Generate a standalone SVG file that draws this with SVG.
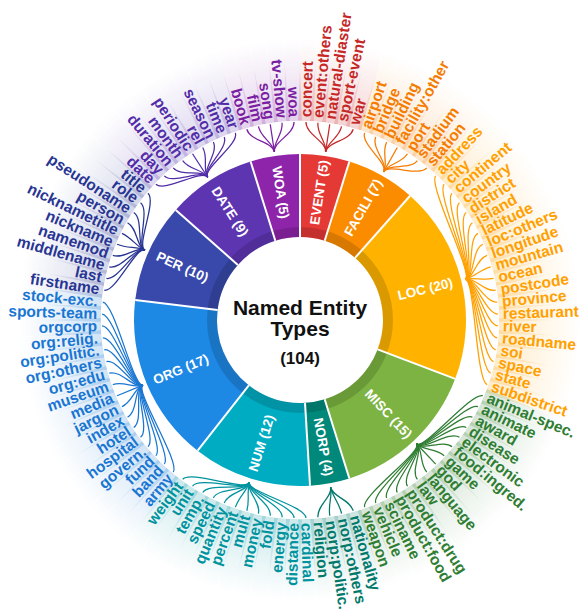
<svg xmlns="http://www.w3.org/2000/svg" width="582" height="612" viewBox="0 0 582 612">
<style>
text{font-family:"Liberation Sans",Arial,Helvetica,sans-serif;font-weight:bold}
.sl{fill:#fff;font-size:13.5px;text-anchor:middle;dominant-baseline:central}
.lf text{font-size:15.5px}
.lf .e{text-anchor:end}
.h{fill-opacity:.2}
.cn use{fill:none;stroke-width:1.25}
.ctr{fill:#111;text-anchor:middle}
</style>
<defs>
<linearGradient id="gR" x1="0" y1="0" x2="1" y2="0"><stop offset="0" stop-color="#fff"/><stop offset="1" stop-color="#000"/></linearGradient>
<linearGradient id="gL" x1="1" y1="0" x2="0" y2="0"><stop offset="0" stop-color="#fff"/><stop offset="1" stop-color="#000"/></linearGradient>
<mask id="mR" maskContentUnits="objectBoundingBox"><rect width="1" height="1" fill="url(#gR)"/></mask>
<mask id="mL" maskContentUnits="objectBoundingBox"><rect width="1" height="1" fill="url(#gL)"/></mask>
<rect id="hr" x="199" y="-8" width="82" height="16" mask="url(#mR)"/>
<rect id="hl" x="-281" y="-8" width="82" height="16" mask="url(#mL)"/>
<path id="z" d="M170,0L198,0"/>
<path id="a1" d="M169.92,5.13C179.92,5.44 186,0 198,0"/>
<path id="b1" d="M169.92,-5.13C179.92,-5.44 186,0 198,0"/>
<path id="a2" d="M169.69,10.26C179.67,10.87 186,0 198,0"/>
<path id="b2" d="M169.69,-10.26C179.67,-10.87 186,0 198,0"/>
<path id="a3" d="M169.30,15.38C179.26,16.29 186,0 198,0"/>
<path id="b3" d="M169.30,-15.38C179.26,-16.29 186,0 198,0"/>
<path id="a4" d="M168.76,20.49C178.69,21.70 186,0 198,0"/>
<path id="b4" d="M168.76,-20.49C178.69,-21.70 186,0 198,0"/>
<path id="a5" d="M168.06,25.58C177.95,27.08 186,0 198,0"/>
<path id="b5" d="M168.06,-25.58C177.95,-27.08 186,0 198,0"/>
<path id="a6" d="M167.22,30.64C177.05,32.45 186,0 198,0"/>
<path id="b6" d="M167.22,-30.64C177.05,-32.45 186,0 198,0"/>
<path id="a7" d="M166.21,35.68C175.99,37.78 186,0 198,0"/>
<path id="b7" d="M166.21,-35.68C175.99,-37.78 186,0 198,0"/>
<path id="a8" d="M165.06,40.68C174.77,43.08 186,0 198,0"/>
<path id="b8" d="M165.06,-40.68C174.77,-43.08 186,0 198,0"/>
<path id="a9" d="M163.76,45.65C173.39,48.34 186,0 198,0"/>
<path id="b9" d="M163.76,-45.65C173.39,-48.34 186,0 198,0"/>
<path id="a10" d="M162.30,50.58C171.85,53.55 186,0 198,0"/>
<path id="b10" d="M162.30,-50.58C171.85,-53.55 186,0 198,0"/>
<path id="a11" d="M160.70,55.45C170.15,58.72 186,0 198,0"/>
<path id="b11" d="M160.70,-55.45C170.15,-58.72 186,0 198,0"/>
<path id="a12" d="M158.95,60.28C168.30,63.83 186,0 198,0"/>
<path id="b12" d="M158.95,-60.28C168.30,-63.83 186,0 198,0"/>
<path id="a13" d="M157.06,65.06C166.30,68.88 186,0 198,0"/>
<path id="b13" d="M157.06,-65.06C166.30,-68.88 186,0 198,0"/>
<path id="a14" d="M155.02,69.77C164.14,73.87 186,0 198,0"/>
<path id="b14" d="M155.02,-69.77C164.14,-73.87 186,0 198,0"/>
<path id="a15" d="M152.85,74.42C161.84,78.80 186,0 198,0"/>
<path id="b15" d="M152.85,-74.42C161.84,-78.80 186,0 198,0"/>
<path id="a16" d="M150.53,79.00C159.38,83.65 186,0 198,0"/>
<path id="b16" d="M150.53,-79.00C159.38,-83.65 186,0 198,0"/>
<path id="a17" d="M148.07,83.51C156.78,88.43 186,0 198,0"/>
<path id="b17" d="M148.07,-83.51C156.78,-88.43 186,0 198,0"/>
<path id="a19" d="M142.76,92.30C151.16,97.73 186,0 198,0"/>
<path id="b19" d="M142.76,-92.30C151.16,-97.73 186,0 198,0"/>
</defs>
<rect width="582" height="612" fill="#fff"/>

<g id="ring">
<g id="event"><path fill="#E53935" d="M300,154A166,166 0 0 1 349.39,161.52L324.69,240.76A83,83 0 0 0 300,237Z"/><text class="sl" transform="translate(319.41,192.47) rotate(-81.35)">EVENT (5)</text></g>
<g id="facili"><path fill="#FB8C00" d="M349.39,161.52A166,166 0 0 1 410.08,195.75L355.04,257.87A83,83 0 0 0 324.69,240.76Z"/><text class="sl" transform="translate(363.37,207.64) rotate(-60.58)">FACILI (7)</text></g>
<g id="loc"><path fill="#FFB300" d="M410.08,195.75A166,166 0 0 1 455.21,378.86L377.61,349.43A83,83 0 0 0 355.04,257.87Z"/><text class="sl" transform="translate(425.25,289.13) rotate(-13.85)">LOC (20)</text></g>
<g id="misc"><path fill="#7CB342" d="M455.21,378.86A166,166 0 0 1 349.39,478.48L324.69,399.24A83,83 0 0 0 377.61,349.43Z"/><text class="sl" transform="translate(388.42,413.93) rotate(46.73)">MISC (15)</text></g>
<g id="norp"><path fill="#00897B" d="M349.39,478.48A166,166 0 0 1 310.02,485.70L305.01,402.85A83,83 0 0 0 324.69,399.24Z"/><text class="sl" transform="translate(323.25,446.89) rotate(79.62)">NORP (4)</text></g>
<g id="num"><path fill="#00ACC1" d="M310.02,485.70A166,166 0 0 1 197.63,450.67L248.81,385.34A83,83 0 0 0 305.01,402.85Z"/><text class="sl" transform="translate(261.62,443.16) rotate(-72.69)">NUM (12)</text></g>
<g id="org"><path fill="#1E88E5" d="M197.63,450.67A166,166 0 0 1 135.21,299.99L217.61,310A83,83 0 0 0 248.81,385.34Z"/><text class="sl" transform="translate(180.82,369.37) rotate(-22.5)">ORG (17)</text></g>
<g id="per"><path fill="#3949AB" d="M135.21,299.99A166,166 0 0 1 175.75,209.92L237.87,264.96A83,83 0 0 0 217.61,310Z"/><text class="sl" transform="translate(182.36,267.06) rotate(24.23)">PER (10)</text></g>
<g id="date"><path fill="#5E35B1" d="M175.75,209.92A166,166 0 0 1 250.62,161.52L275.31,240.76A83,83 0 0 0 237.87,264.96Z"/><text class="sl" transform="translate(229.96,211.67) rotate(57.12)">DATE (9)</text></g>
<g id="woa"><path fill="#8E24AA" d="M250.62,161.52A166,166 0 0 1 300,154L300,237A83,83 0 0 0 275.31,240.76Z"/><text class="sl" transform="translate(280.59,192.47) rotate(81.35)">WOA (5)</text></g>
<circle cx="300" cy="320" r="88" fill="none" stroke="#000" stroke-opacity=".14" stroke-width="10"/>
<g stroke="#fff" stroke-width="2">
<line x1="300" y1="237" x2="300" y2="153"/>
<line x1="324.69" y1="240.76" x2="349.39" y2="161.52"/>
<line x1="355.04" y1="257.87" x2="410.08" y2="195.75"/>
<line x1="377.61" y1="349.43" x2="455.21" y2="378.86"/>
<line x1="324.69" y1="399.24" x2="349.39" y2="478.48"/>
<line x1="305.01" y1="402.85" x2="310.02" y2="485.70"/>
<line x1="248.81" y1="385.34" x2="197.63" y2="450.67"/>
<line x1="217.61" y1="310" x2="135.21" y2="299.99"/>
<line x1="237.87" y1="264.96" x2="175.75" y2="209.92"/>
<line x1="275.31" y1="240.76" x2="250.62" y2="161.52"/>
</g>
</g>

<g id="center">
<text class="ctr" x="300" y="315" font-size="21">Named Entity</text>
<text class="ctr" x="300" y="336" font-size="21">Types</text>
<text class="ctr" x="300" y="364" font-size="17">(104)</text>
</g>

<g id="connectors" class="cn" transform="translate(300,320)">
<g stroke="#C62828">
<use href="#a4" transform="rotate(-88.27)"/><use href="#a2" transform="rotate(-84.81)"/><use href="#z" transform="rotate(-81.35)"/><use href="#b2" transform="rotate(-77.88)"/><use href="#b4" transform="rotate(-74.42)"/>
</g>
<g stroke="#F57C00">
<use href="#a6" transform="rotate(-70.96)"/><use href="#a4" transform="rotate(-67.5)"/><use href="#a2" transform="rotate(-64.04)"/><use href="#z" transform="rotate(-60.58)"/><use href="#b2" transform="rotate(-57.12)"/><use href="#b4" transform="rotate(-53.65)"/><use href="#b6" transform="rotate(-50.19)"/>
</g>
<g stroke="#FFA000">
<use href="#a19" transform="rotate(-46.73)"/><use href="#a17" transform="rotate(-43.27)"/><use href="#a15" transform="rotate(-39.81)"/><use href="#a13" transform="rotate(-36.35)"/><use href="#a11" transform="rotate(-32.88)"/><use href="#a9" transform="rotate(-29.42)"/><use href="#a7" transform="rotate(-25.96)"/><use href="#a5" transform="rotate(-22.5)"/><use href="#a3" transform="rotate(-19.04)"/><use href="#a1" transform="rotate(-15.58)"/><use href="#b1" transform="rotate(-12.12)"/><use href="#b3" transform="rotate(-8.65)"/><use href="#b5" transform="rotate(-5.19)"/><use href="#b7" transform="rotate(-1.73)"/><use href="#b9" transform="rotate(1.73)"/><use href="#b11" transform="rotate(5.19)"/><use href="#b13" transform="rotate(8.65)"/><use href="#b15" transform="rotate(12.12)"/><use href="#b17" transform="rotate(15.58)"/><use href="#b19" transform="rotate(19.04)"/>
</g>
<g stroke="#2E7D32">
<use href="#a14" transform="rotate(22.5)"/><use href="#a12" transform="rotate(25.96)"/><use href="#a10" transform="rotate(29.42)"/><use href="#a8" transform="rotate(32.88)"/><use href="#a6" transform="rotate(36.35)"/><use href="#a4" transform="rotate(39.81)"/><use href="#a2" transform="rotate(43.27)"/><use href="#z" transform="rotate(46.73)"/><use href="#b2" transform="rotate(50.19)"/><use href="#b4" transform="rotate(53.65)"/><use href="#b6" transform="rotate(57.12)"/><use href="#b8" transform="rotate(60.58)"/><use href="#b10" transform="rotate(64.04)"/><use href="#b12" transform="rotate(67.5)"/><use href="#b14" transform="rotate(70.96)"/>
</g>
<g stroke="#00796B">
<use href="#a3" transform="rotate(74.42)"/><use href="#a1" transform="rotate(77.88)"/><use href="#b1" transform="rotate(81.35)"/><use href="#b3" transform="rotate(84.81)"/>
</g>
<g stroke="#00939E">
<use href="#a11" transform="rotate(88.27)"/><use href="#a9" transform="rotate(91.73)"/><use href="#a7" transform="rotate(95.19)"/><use href="#a5" transform="rotate(98.65)"/><use href="#a3" transform="rotate(102.12)"/><use href="#a1" transform="rotate(105.58)"/><use href="#b1" transform="rotate(109.04)"/><use href="#b3" transform="rotate(112.5)"/><use href="#b5" transform="rotate(115.96)"/><use href="#b7" transform="rotate(119.42)"/><use href="#b9" transform="rotate(122.88)"/><use href="#b11" transform="rotate(126.35)"/>
</g>
<g stroke="#1976D2">
<use href="#a16" transform="rotate(129.81)"/><use href="#a14" transform="rotate(133.27)"/><use href="#a12" transform="rotate(136.73)"/><use href="#a10" transform="rotate(140.19)"/><use href="#a8" transform="rotate(143.65)"/><use href="#a6" transform="rotate(147.12)"/><use href="#a4" transform="rotate(150.58)"/><use href="#a2" transform="rotate(154.04)"/><use href="#z" transform="rotate(157.5)"/><use href="#b2" transform="rotate(160.96)"/><use href="#b4" transform="rotate(164.42)"/><use href="#b6" transform="rotate(167.88)"/><use href="#b8" transform="rotate(171.35)"/><use href="#b10" transform="rotate(174.81)"/><use href="#b12" transform="rotate(178.27)"/><use href="#b14" transform="rotate(181.73)"/><use href="#b16" transform="rotate(185.19)"/>
</g>
<g stroke="#283593">
<use href="#a9" transform="rotate(188.65)"/><use href="#a7" transform="rotate(192.12)"/><use href="#a5" transform="rotate(195.58)"/><use href="#a3" transform="rotate(199.04)"/><use href="#a1" transform="rotate(202.5)"/><use href="#b1" transform="rotate(205.96)"/><use href="#b3" transform="rotate(209.42)"/><use href="#b5" transform="rotate(212.88)"/><use href="#b7" transform="rotate(216.35)"/><use href="#b9" transform="rotate(219.81)"/>
</g>
<g stroke="#512DA8">
<use href="#a8" transform="rotate(223.27)"/><use href="#a6" transform="rotate(226.73)"/><use href="#a4" transform="rotate(230.19)"/><use href="#a2" transform="rotate(233.65)"/><use href="#z" transform="rotate(237.12)"/><use href="#b2" transform="rotate(240.58)"/><use href="#b4" transform="rotate(244.04)"/><use href="#b6" transform="rotate(247.5)"/><use href="#b8" transform="rotate(250.96)"/>
</g>
<g stroke="#7B1FA2">
<use href="#a4" transform="rotate(254.42)"/><use href="#a2" transform="rotate(257.88)"/><use href="#z" transform="rotate(261.35)"/><use href="#b2" transform="rotate(264.81)"/><use href="#b4" transform="rotate(268.27)"/>
</g>
</g>

<g id="leaves" class="lf" transform="translate(300,320)">
<g id="event-types" fill="#C62828">
<g id="l0" transform="rotate(-88.27)"><use class="h" href="#hr"/><text x="203" y="5">concert</text></g>
<g id="l1" transform="rotate(-84.81)"><use class="h" href="#hr"/><text x="203" y="5">event:others</text></g>
<g id="l2" transform="rotate(-81.35)"><use class="h" href="#hr"/><text x="203" y="5">natural-diaster</text></g>
<g id="l3" transform="rotate(-77.88)"><use class="h" href="#hr"/><text x="203" y="5">sport-event</text></g>
<g id="l4" transform="rotate(-74.42)"><use class="h" href="#hr"/><text x="203" y="5">war</text></g>
</g>
<g id="facili-types" fill="#F57C00">
<g id="l5" transform="rotate(-70.96)"><use class="h" href="#hr"/><text x="203" y="5">airport</text></g>
<g id="l6" transform="rotate(-67.5)"><use class="h" href="#hr"/><text x="203" y="5">bridge</text></g>
<g id="l7" transform="rotate(-64.04)"><use class="h" href="#hr"/><text x="203" y="5">building</text></g>
<g id="l8" transform="rotate(-60.58)"><use class="h" href="#hr"/><text x="203" y="5">facility:other</text></g>
<g id="l9" transform="rotate(-57.12)"><use class="h" href="#hr"/><text x="203" y="5">port</text></g>
<g id="l10" transform="rotate(-53.65)"><use class="h" href="#hr"/><text x="203" y="5">stadium</text></g>
<g id="l11" transform="rotate(-50.19)"><use class="h" href="#hr"/><text x="203" y="5">station</text></g>
</g>
<g id="loc-types" fill="#FFA000">
<g id="l12" transform="rotate(-46.73)"><use class="h" href="#hr"/><text x="203" y="5">address</text></g>
<g id="l13" transform="rotate(-43.27)"><use class="h" href="#hr"/><text x="203" y="5">city</text></g>
<g id="l14" transform="rotate(-39.81)"><use class="h" href="#hr"/><text x="203" y="5">continent</text></g>
<g id="l15" transform="rotate(-36.35)"><use class="h" href="#hr"/><text x="203" y="5">country</text></g>
<g id="l16" transform="rotate(-32.88)"><use class="h" href="#hr"/><text x="203" y="5">district</text></g>
<g id="l17" transform="rotate(-29.42)"><use class="h" href="#hr"/><text x="203" y="5">island</text></g>
<g id="l18" transform="rotate(-25.96)"><use class="h" href="#hr"/><text x="203" y="5">latitude</text></g>
<g id="l19" transform="rotate(-22.5)"><use class="h" href="#hr"/><text x="203" y="5">loc:others</text></g>
<g id="l20" transform="rotate(-19.04)"><use class="h" href="#hr"/><text x="203" y="5">longitude</text></g>
<g id="l21" transform="rotate(-15.58)"><use class="h" href="#hr"/><text x="203" y="5">mountain</text></g>
<g id="l22" transform="rotate(-12.12)"><use class="h" href="#hr"/><text x="203" y="5">ocean</text></g>
<g id="l23" transform="rotate(-8.65)"><use class="h" href="#hr"/><text x="203" y="5">postcode</text></g>
<g id="l24" transform="rotate(-5.19)"><use class="h" href="#hr"/><text x="203" y="5">province</text></g>
<g id="l25" transform="rotate(-1.73)"><use class="h" href="#hr"/><text x="203" y="5">restaurant</text></g>
<g id="l26" transform="rotate(1.73)"><use class="h" href="#hr"/><text x="203" y="5">river</text></g>
<g id="l27" transform="rotate(5.19)"><use class="h" href="#hr"/><text x="203" y="5">roadname</text></g>
<g id="l28" transform="rotate(8.65)"><use class="h" href="#hr"/><text x="203" y="5">soi</text></g>
<g id="l29" transform="rotate(12.12)"><use class="h" href="#hr"/><text x="203" y="5">space</text></g>
<g id="l30" transform="rotate(15.58)"><use class="h" href="#hr"/><text x="203" y="5">state</text></g>
<g id="l31" transform="rotate(19.04)"><use class="h" href="#hr"/><text x="203" y="5">subdistrict</text></g>
</g>
<g id="misc-types" fill="#2E7D32">
<g id="l32" transform="rotate(22.5)"><use class="h" href="#hr"/><text x="203" y="5">animal-spec.</text></g>
<g id="l33" transform="rotate(25.96)"><use class="h" href="#hr"/><text x="203" y="5">animate</text></g>
<g id="l34" transform="rotate(29.42)"><use class="h" href="#hr"/><text x="203" y="5">award</text></g>
<g id="l35" transform="rotate(32.88)"><use class="h" href="#hr"/><text x="203" y="5">disease</text></g>
<g id="l36" transform="rotate(36.35)"><use class="h" href="#hr"/><text x="203" y="5">electronic</text></g>
<g id="l37" transform="rotate(39.81)"><use class="h" href="#hr"/><text x="203" y="5">food:ingred.</text></g>
<g id="l38" transform="rotate(43.27)"><use class="h" href="#hr"/><text x="203" y="5">game</text></g>
<g id="l39" transform="rotate(46.73)"><use class="h" href="#hr"/><text x="203" y="5">god</text></g>
<g id="l40" transform="rotate(50.19)"><use class="h" href="#hr"/><text x="203" y="5">language</text></g>
<g id="l41" transform="rotate(53.65)"><use class="h" href="#hr"/><text x="203" y="5">law</text></g>
<g id="l42" transform="rotate(57.12)"><use class="h" href="#hr"/><text x="203" y="5">product:drug</text></g>
<g id="l43" transform="rotate(60.58)"><use class="h" href="#hr"/><text x="203" y="5">product:food</text></g>
<g id="l44" transform="rotate(64.04)"><use class="h" href="#hr"/><text x="203" y="5">sciname</text></g>
<g id="l45" transform="rotate(67.5)"><use class="h" href="#hr"/><text x="203" y="5">vehicle</text></g>
<g id="l46" transform="rotate(70.96)"><use class="h" href="#hr"/><text x="203" y="5">weapon</text></g>
</g>
<g id="norp-types" fill="#00796B">
<g id="l47" transform="rotate(74.42)"><use class="h" href="#hr"/><text x="203" y="5">nationality</text></g>
<g id="l48" transform="rotate(77.88)"><use class="h" href="#hr"/><text x="203" y="5">norp:others</text></g>
<g id="l49" transform="rotate(81.35)"><use class="h" href="#hr"/><text x="203" y="5">norp:politic.</text></g>
<g id="l50" transform="rotate(84.81)"><use class="h" href="#hr"/><text x="203" y="5">religion</text></g>
</g>
<g id="num-types" fill="#00939E">
<g id="l51" transform="rotate(88.27)"><use class="h" href="#hr"/><text x="203" y="5">cardinal</text></g>
<g id="l52" transform="rotate(-88.27)"><use class="h" href="#hl"/><text class="e" x="-203" y="5">distance</text></g>
<g id="l53" transform="rotate(-84.81)"><use class="h" href="#hl"/><text class="e" x="-203" y="5">energy</text></g>
<g id="l54" transform="rotate(-81.35)"><use class="h" href="#hl"/><text class="e" x="-203" y="5">fold</text></g>
<g id="l55" transform="rotate(-77.88)"><use class="h" href="#hl"/><text class="e" x="-203" y="5">money</text></g>
<g id="l56" transform="rotate(-74.42)"><use class="h" href="#hl"/><text class="e" x="-203" y="5">mult</text></g>
<g id="l57" transform="rotate(-70.96)"><use class="h" href="#hl"/><text class="e" x="-203" y="5">percent</text></g>
<g id="l58" transform="rotate(-67.5)"><use class="h" href="#hl"/><text class="e" x="-203" y="5">quantity</text></g>
<g id="l59" transform="rotate(-64.04)"><use class="h" href="#hl"/><text class="e" x="-203" y="5">speed</text></g>
<g id="l60" transform="rotate(-60.58)"><use class="h" href="#hl"/><text class="e" x="-203" y="5">temp.</text></g>
<g id="l61" transform="rotate(-57.12)"><use class="h" href="#hl"/><text class="e" x="-203" y="5">unit</text></g>
<g id="l62" transform="rotate(-53.65)"><use class="h" href="#hl"/><text class="e" x="-203" y="5">weight</text></g>
</g>
<g id="org-types" fill="#1976D2">
<g id="l63" transform="rotate(-50.19)"><use class="h" href="#hl"/><text class="e" x="-203" y="5">army</text></g>
<g id="l64" transform="rotate(-46.73)"><use class="h" href="#hl"/><text class="e" x="-203" y="5">band</text></g>
<g id="l65" transform="rotate(-43.27)"><use class="h" href="#hl"/><text class="e" x="-203" y="5">fund</text></g>
<g id="l66" transform="rotate(-39.81)"><use class="h" href="#hl"/><text class="e" x="-203" y="5">govern.</text></g>
<g id="l67" transform="rotate(-36.35)"><use class="h" href="#hl"/><text class="e" x="-203" y="5">hospital</text></g>
<g id="l68" transform="rotate(-32.88)"><use class="h" href="#hl"/><text class="e" x="-203" y="5">hotel</text></g>
<g id="l69" transform="rotate(-29.42)"><use class="h" href="#hl"/><text class="e" x="-203" y="5">index</text></g>
<g id="l70" transform="rotate(-25.96)"><use class="h" href="#hl"/><text class="e" x="-203" y="5">jargon</text></g>
<g id="l71" transform="rotate(-22.5)"><use class="h" href="#hl"/><text class="e" x="-203" y="5">media</text></g>
<g id="l72" transform="rotate(-19.04)"><use class="h" href="#hl"/><text class="e" x="-203" y="5">museum</text></g>
<g id="l73" transform="rotate(-15.58)"><use class="h" href="#hl"/><text class="e" x="-203" y="5">org:edu</text></g>
<g id="l74" transform="rotate(-12.12)"><use class="h" href="#hl"/><text class="e" x="-203" y="5">org:others</text></g>
<g id="l75" transform="rotate(-8.65)"><use class="h" href="#hl"/><text class="e" x="-203" y="5">org:politic.</text></g>
<g id="l76" transform="rotate(-5.19)"><use class="h" href="#hl"/><text class="e" x="-203" y="5">org:relig.</text></g>
<g id="l77" transform="rotate(-1.73)"><use class="h" href="#hl"/><text class="e" x="-203" y="5">orgcorp</text></g>
<g id="l78" transform="rotate(1.73)"><use class="h" href="#hl"/><text class="e" x="-203" y="5">sports-team</text></g>
<g id="l79" transform="rotate(5.19)"><use class="h" href="#hl"/><text class="e" x="-203" y="5">stock-exc.</text></g>
</g>
<g id="per-types" fill="#283593">
<g id="l80" transform="rotate(8.65)"><use class="h" href="#hl"/><text class="e" x="-203" y="5">firstname</text></g>
<g id="l81" transform="rotate(12.12)"><use class="h" href="#hl"/><text class="e" x="-203" y="5">last</text></g>
<g id="l82" transform="rotate(15.58)"><use class="h" href="#hl"/><text class="e" x="-203" y="5">middlename</text></g>
<g id="l83" transform="rotate(19.04)"><use class="h" href="#hl"/><text class="e" x="-203" y="5">namemod</text></g>
<g id="l84" transform="rotate(22.5)"><use class="h" href="#hl"/><text class="e" x="-203" y="5">nickname</text></g>
<g id="l85" transform="rotate(25.96)"><use class="h" href="#hl"/><text class="e" x="-203" y="5">nicknametitle</text></g>
<g id="l86" transform="rotate(29.42)"><use class="h" href="#hl"/><text class="e" x="-203" y="5">person</text></g>
<g id="l87" transform="rotate(32.88)"><use class="h" href="#hl"/><text class="e" x="-203" y="5">pseudoname</text></g>
<g id="l88" transform="rotate(36.35)"><use class="h" href="#hl"/><text class="e" x="-203" y="5">role</text></g>
<g id="l89" transform="rotate(39.81)"><use class="h" href="#hl"/><text class="e" x="-203" y="5">title</text></g>
</g>
<g id="date-types" fill="#512DA8">
<g id="l90" transform="rotate(43.27)"><use class="h" href="#hl"/><text class="e" x="-203" y="5">date</text></g>
<g id="l91" transform="rotate(46.73)"><use class="h" href="#hl"/><text class="e" x="-203" y="5">day</text></g>
<g id="l92" transform="rotate(50.19)"><use class="h" href="#hl"/><text class="e" x="-203" y="5">duration</text></g>
<g id="l93" transform="rotate(53.65)"><use class="h" href="#hl"/><text class="e" x="-203" y="5">month</text></g>
<g id="l94" transform="rotate(57.12)"><use class="h" href="#hl"/><text class="e" x="-203" y="5">periodic</text></g>
<g id="l95" transform="rotate(60.58)"><use class="h" href="#hl"/><text class="e" x="-203" y="5">rel</text></g>
<g id="l96" transform="rotate(64.04)"><use class="h" href="#hl"/><text class="e" x="-203" y="5">season</text></g>
<g id="l97" transform="rotate(67.5)"><use class="h" href="#hl"/><text class="e" x="-203" y="5">time</text></g>
<g id="l98" transform="rotate(70.96)"><use class="h" href="#hl"/><text class="e" x="-203" y="5">year</text></g>
</g>
<g id="woa-types" fill="#7B1FA2">
<g id="l99" transform="rotate(74.42)"><use class="h" href="#hl"/><text class="e" x="-203" y="5">book</text></g>
<g id="l100" transform="rotate(77.88)"><use class="h" href="#hl"/><text class="e" x="-203" y="5">film</text></g>
<g id="l101" transform="rotate(81.35)"><use class="h" href="#hl"/><text class="e" x="-203" y="5">song</text></g>
<g id="l102" transform="rotate(84.81)"><use class="h" href="#hl"/><text class="e" x="-203" y="5">tv-show</text></g>
<g id="l103" transform="rotate(88.27)"><use class="h" href="#hl"/><text class="e" x="-203" y="5">woa</text></g>
</g>
</g>
</svg>
